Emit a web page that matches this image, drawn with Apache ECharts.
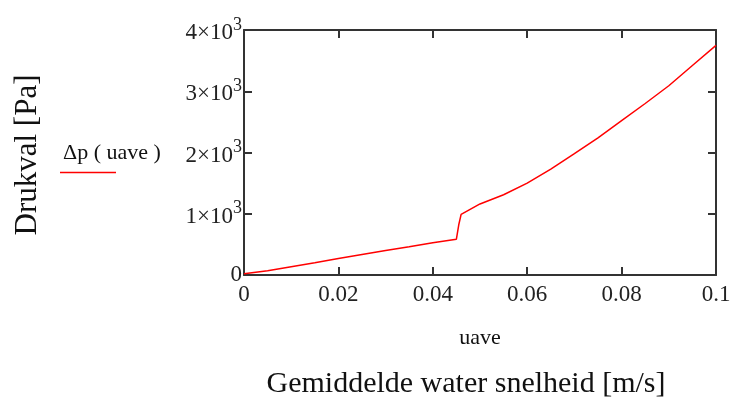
<!DOCTYPE html>
<html>
<head>
<meta charset="utf-8">
<script src="https://cdn.jsdelivr.net/npm/echarts@6/dist/echarts.min.js"></script>
<style>html,body{margin:0;padding:0;background:#fff}#c{width:734px;height:402px}</style>
</head>
<body>
<div id="c"></div>
<script>
const uave = [0, 0.005, 0.01, 0.015, 0.02, 0.025, 0.03, 0.035, 0.04, 0.045, 0.0455, 0.046, 0.05, 0.055, 0.06, 0.065, 0.07, 0.075, 0.08, 0.085, 0.09, 0.095, 0.1];
const dp = [20, 70, 135, 200, 270, 335, 400, 460, 525, 585, 820, 990, 1160, 1310, 1500, 1730, 1980, 2240, 2520, 2800, 3090, 3420, 3750];
const xTicks = [0, 0.02, 0.04, 0.06, 0.08, 0.1];
const yTicks = [0, 1000, 2000, 3000, 4000];
const seriesName = 'Δp ( uave )';

const FONT = '"Liberation Serif", "DejaVu Serif", serif';
const chart = echarts.init(document.getElementById('c'), null, {renderer: 'canvas'});
const axisCommon = () => ({
  axisLine: {show: true, onZero: false, lineStyle: {color: '#333', width: 2}},
  axisTick: {show: true, inside: true, length: 8, lineStyle: {color: '#333', width: 2}},
  splitLine: {show: false}
});
chart.setOption({
  animation: false,
  grid: {left: 244, top: 30, right: 18, bottom: 127, show: false},
  xAxis: [
    Object.assign({
      type: 'value', min: 0, max: 0.1, interval: 0.02, position: 'bottom',
      name: 'uave', nameLocation: 'middle', nameGap: 52,
      nameTextStyle: {fontFamily: FONT, fontSize: 22, color: '#111'},
      axisLabel: {fontFamily: FONT, fontSize: 23, color: '#222', margin: 8,
        formatter: v => (xTicks.find(t => Math.abs(t - v) < 1e-9) ?? v).toString()}
    }, axisCommon()),
    Object.assign({
      type: 'value', min: 0, max: 0.1, interval: 0.02, position: 'top',
      axisLabel: {show: false}
    }, axisCommon())
  ],
  yAxis: [
    Object.assign({
      type: 'value', min: 0, max: 4000, interval: 1000, position: 'left',
      axisLabel: {fontFamily: FONT, fontSize: 23, color: '#222', margin: 2,
        padding: [6, 0, 0, 0],
        formatter: v => v === yTicks[0] ? '{z|0}' : '{b|' + (v / 1000) + '×10}{s|3}',
        rich: {
          z: {fontFamily: FONT, fontSize: 23, color: '#222', padding: [0, 0, 6, 0]},
          b: {fontFamily: FONT, fontSize: 23, color: '#222'},
          s: {fontFamily: FONT, fontSize: 18, color: '#222', padding: [0, 0, 16, 0]}
        }
      }
    }, axisCommon()),
    Object.assign({
      type: 'value', min: 0, max: 4000, interval: 1000, position: 'right',
      axisLabel: {show: false}
    }, axisCommon())
  ],
  series: [{
    name: seriesName,
    type: 'line',
    data: uave.map((u, i) => [u, dp[i]]),
    showSymbol: false,
    lineStyle: {color: '#ff0000', width: 1.5},
    xAxisIndex: 0, yAxisIndex: 0
  }],
  graphic: [
    {type: 'text', x: 112, y: 153, style: {text: seriesName, font: '22px ' + FONT, fill: '#111', align: 'center', verticalAlign: 'middle'}},
    {type: 'line', shape: {x1: 60, y1: 172.5, x2: 116, y2: 172.5}, style: {stroke: '#ff0000', lineWidth: 1.5}},
    {type: 'text', x: 28, y: 155, rotation: Math.PI / 2, style: {text: 'Drukval [Pa]', font: '31px ' + FONT, fill: '#111', align: 'center', verticalAlign: 'middle'}},
    {type: 'text', x: 466, y: 384, style: {text: 'Gemiddelde water snelheid [m/s]', font: '30px ' + FONT, fill: '#111', align: 'center', verticalAlign: 'middle'}}
  ]
});
</script>
</body>
</html>
